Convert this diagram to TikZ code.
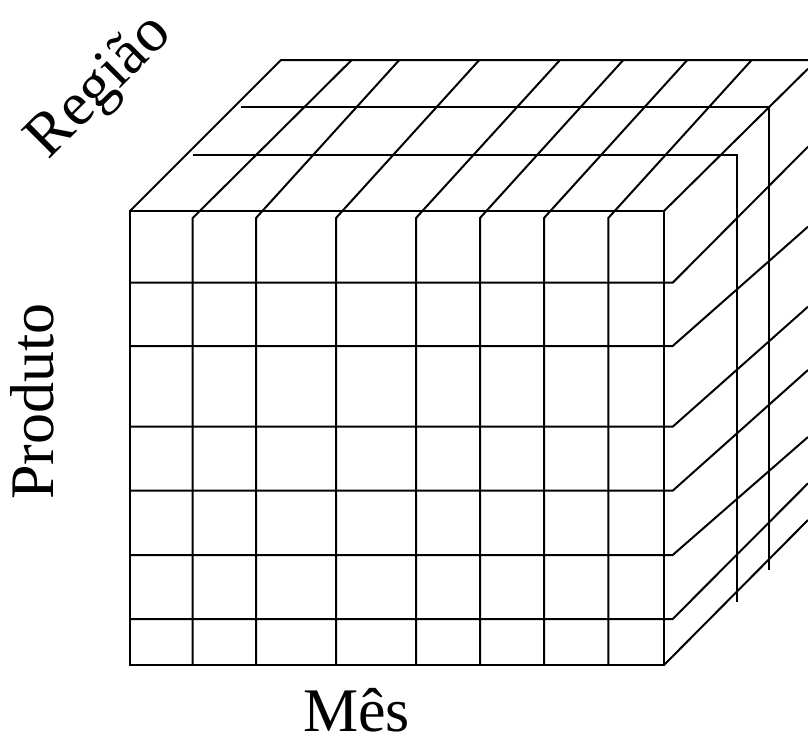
\documentclass[tikz,border=0pt]{standalone}
\usepackage{fontspec}
\setmainfont{Liberation Serif}
\begin{document}
\begin{tikzpicture}[x=1pt,y=-1pt,
  gridline/.style={line width=2pt, line join=miter, draw=black},
  axislabel/.style={font=\fontsize{62}{70}\selectfont, inner sep=0pt, anchor=base}]
\useasboundingbox (0,0) rectangle (808,739);
% front face outline
\draw[gridline] (130,211) rectangle (664,665);
% front face vertical lines continuing as top-face diagonals
\foreach \x/\t in {192.7/351.7, 256/399.3, 336/479.3, 416/560, 480/623.3, 544/687.3, 608.3/751.7}
  \draw[gridline] (\x,665) -- (\x,218) -- (\t,60);
% front face horizontal lines continuing as right-face diagonals
\foreach \y/\e in {282.7/146.7, 346/226.7, 426.7/306.7, 490.7/370, 555/437, 619/483.3}
  \draw[gridline] (130,\y) -- (672.7,\y) -- (808,\e);
% outer edges
\draw[gridline] (130,211) -- (281,60) -- (808,60);
\draw[gridline] (664,211) -- (808,68.7);
\draw[gridline] (664,665) -- (808,520);
% depth slices
\draw[gridline] (240.7,106.7) -- (769.3,106.7) -- (769.3,570);
\draw[gridline] (192.7,155) -- (736.7,155) -- (736.7,602.3);
% labels
\node[axislabel] (mes) at (356.5,731) {Mês};
\node[axislabel, rotate=90] (produto) at (53,401.7) {Produto};
\node[axislabel, rotate=45] (regiao) at (111,98) {Região};
\end{tikzpicture}
\end{document}
